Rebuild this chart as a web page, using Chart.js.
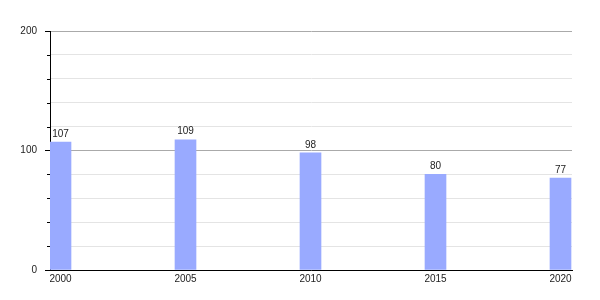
<!DOCTYPE html>
<html><head><meta charset="utf-8">
<script src="https://cdn.jsdelivr.net/npm/chart.js@4"></script>
<style>html,body{margin:0;padding:0;background:#fff}#wrap{width:600px;height:300px}</style>
</head><body><div id="wrap"><canvas id="c" width="600" height="300"></canvas></div>
<script>
const years = [2000, 2005, 2010, 2015, 2020];
const values = [107, 109, 98, 80, 77];
const yLabels = [0, 100, 200];

const valueLabels = {
  id: 'valueLabels',
  afterDatasetsDraw(chart) {
    const ctx = chart.ctx;
    const meta = chart.getDatasetMeta(0);
    ctx.save();
    ctx.font = '10px "Liberation Sans", Arial, sans-serif';
    ctx.fillStyle = '#222';
    ctx.textAlign = 'center';
    ctx.textBaseline = 'bottom';
    meta.data.forEach((el, i) => {
      ctx.fillText(String(values[i]), el.x, el.y - 3);
    });
    ctx.restore();
  }
};
const minorTicks = {
  id: 'minorTicks',
  afterDraw(chart) {
    const y = chart.scales.y, ctx = chart.ctx;
    ctx.save();
    ctx.strokeStyle = '#000';
    ctx.lineWidth = 1;
    y.ticks.forEach(t => {
      if (yLabels.includes(t.value)) return;
      const py = Math.round(y.getPixelForValue(t.value)) + 0.5;
      ctx.beginPath();
      ctx.moveTo(y.right - 3, py);
      ctx.lineTo(y.right, py);
      ctx.stroke();
    });
    ctx.restore();
  }
};

new Chart(document.getElementById('c'), {
  type: 'bar',
  data: {
    datasets: [{
      data: years.map((yr, i) => ({ x: yr, y: values[i] })),
      backgroundColor: '#99aaff',
      borderWidth: 0,
      barThickness: 21
    }]
  },
  options: {
    responsive: false,
    animation: false,
    layout: { padding: { top: 31, right: 28, left: 0, bottom: 0 } },
    plugins: { legend: { display: false }, tooltip: { enabled: false } },
    scales: {
      x: {
        type: 'linear',
        offset: false,
        min: 1999.58,
        max: 2020.46,
        afterBuildTicks(scale) { scale.ticks = years.map(v => ({ value: v })); },
        afterFit(scale) { scale.height = 30; },
        grid: { display: false, drawTicks: false, offset: false },
        border: { color: '#000', width: 1 },
        ticks: {
          color: '#222',
          padding: 3,
          maxRotation: 0,
          autoSkip: false,
          font: { family: '"Liberation Sans", Arial, sans-serif', size: 10 },
          callback: v => String(v)
        }
      },
      y: {
        min: 0,
        max: 200,
        afterFit(scale) { scale.width = 50; },
        grid: {
          color: ctx => (ctx.tick && yLabels.includes(ctx.tick.value)) ? '#aaaaaa' : '#e4e4e4',
          tickColor: ctx => (ctx.tick && yLabels.includes(ctx.tick.value)) ? '#000' : 'rgba(0,0,0,0)',
          tickLength: 5,
          drawTicks: true
        },
        border: { color: '#000', width: 1 },
        ticks: {
          stepSize: 20,
          autoSkip: false,
          color: '#222',
          padding: 8,
          font: { family: '"Liberation Sans", Arial, sans-serif', size: 10 },
          callback: v => yLabels.includes(v) ? String(v) : ''
        }
      }
    }
  },
  plugins: [valueLabels, minorTicks]
});
</script></body></html>
